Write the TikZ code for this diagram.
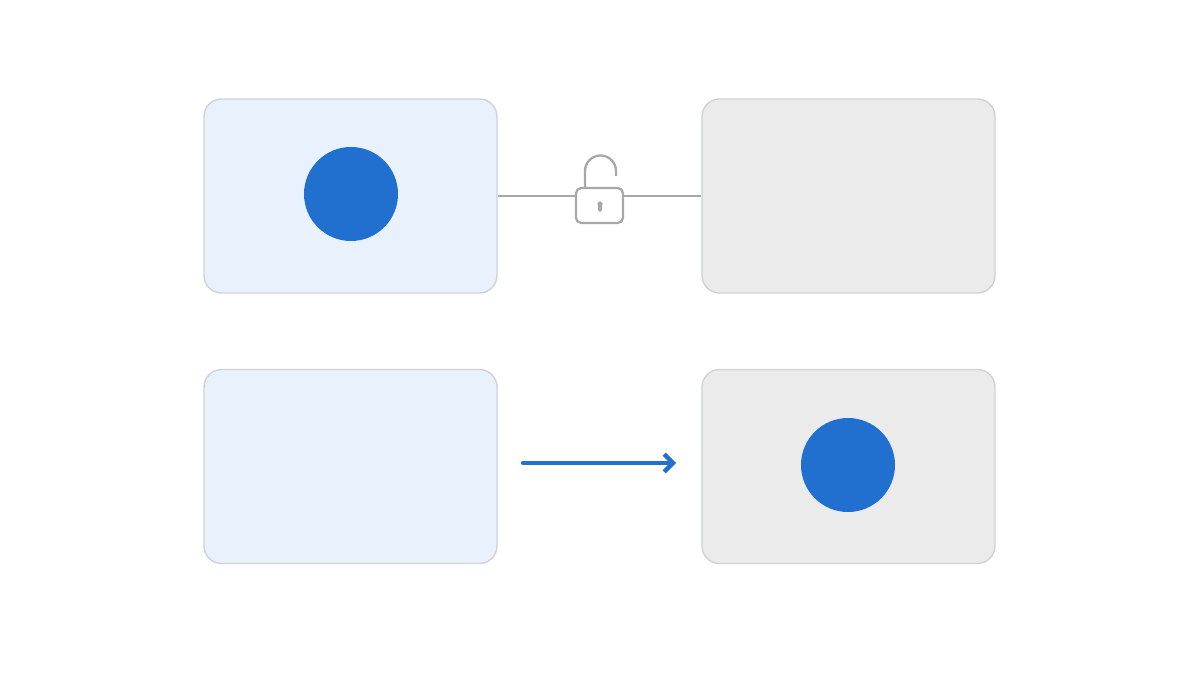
\documentclass[tikz,border=0pt]{standalone}
\usepackage{tikz}
\usetikzlibrary{arrows.meta}
\definecolor{panelblue}{HTML}{E9F1FC}
\definecolor{panelgray}{HTML}{EBEBEB}
\definecolor{edgegray}{HTML}{CFD3D8}
\definecolor{dotblue}{HTML}{2170D0}
\definecolor{lockgray}{HTML}{A8A8A8}
\tikzset{
  panel/.style={draw=edgegray, line width=0.8pt, rounded corners=10pt, minimum width=293*0.02cm, minimum height=194*0.02cm, inner sep=0pt},
  dot/.style={circle, fill=dotblue, minimum size=94*0.02cm, inner sep=0pt}
}
\begin{document}
\begin{tikzpicture}[x=0.02cm,y=-0.02cm]
  \useasboundingbox[fill=white] (0,0) rectangle (1200,675);
  \node[panel, fill=panelblue] (src) at (350.5,196) {};
  \node[panel, fill=panelgray] (dst) at (848.5,196) {};
  \node[panel, fill=panelblue] (src2) at (350.5,466.5) {};
  \node[panel, fill=panelgray] (dst2) at (848.5,466.5) {};
  \node[dot] (ball) at (351,194) {};
  \node[dot] (ball2) at (848,465) {};
  % lock
  \node[draw=lockgray, line width=1.3pt, rounded corners=3pt, minimum width=47*0.02cm, minimum height=35*0.02cm, inner sep=0pt] (lock) at (599.5,205.5) {};
  \draw[lockgray, line width=1.3pt] (585,188) -- (585,171) arc[start angle=180, end angle=0, x radius=15.5, y radius=-15.5] -- (616,176);
  \fill[lockgray, rounded corners=1pt] (598,203) rectangle (602,212);
  \fill[lockgray] (600,204) circle[radius=2.6];
  \draw[lockgray, line width=0.9pt] (src.east |- 0,196) -- (lock.west |- 0,196);
  \draw[lockgray, line width=0.9pt] (lock.east |- 0,196) -- (dst.west |- 0,196);
  % move
  \coordinate (a) at (523,463);
  \coordinate (b) at (676,463);
  \draw[dotblue, line width=2.5pt, line cap=round, -{Straight Barb[length=5pt,width=10pt]}] (a) -- (b);
\end{tikzpicture}
\end{document}
